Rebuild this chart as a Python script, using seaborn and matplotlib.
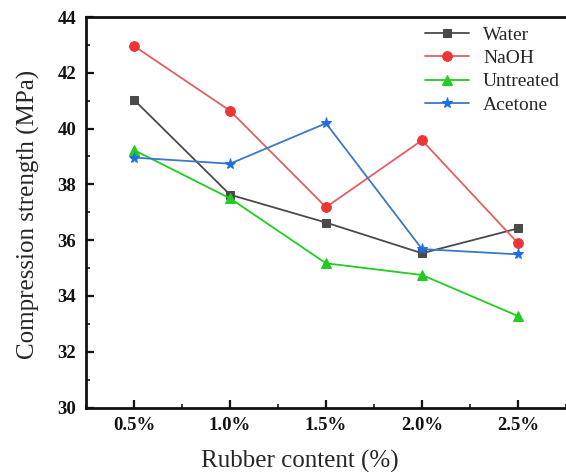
import matplotlib
matplotlib.use("Agg")
import matplotlib.pyplot as plt
import seaborn as sns
import numpy as np
import pandas as pd
from matplotlib.ticker import MultipleLocator

sns.set_theme(style="ticks")
plt.rcParams['font.family'] = ['Liberation Serif', 'DejaVu Serif']

rubber = [0.5, 1.0, 1.5, 2.0, 2.5]
tick_labels = ["0.5%", "1.0%", "1.5%", "2.0%", "2.5%"]
water = [41.03, 37.63, 36.63, 35.53, 36.42]
naoh = [42.96, 40.64, 37.18, 39.58, 35.89]
untreated = [39.23, 37.50, 35.17, 34.75, 33.28]
acetone = [38.96, 38.74, 40.19, 35.68, 35.49]

series = [
    ("Water", water, "#4a4a4a", "#4a4a4a", "s", 6),
    ("NaOH", naoh, "#e06060", "#ee3535", "o", 7),
    ("Untreated", untreated, "#22cc22", "#22cc22", "^", 7),
    ("Acetone", acetone, "#3a78c8", "#1f6fe0", "*", 8),
]

fig = plt.figure(figsize=(5.66, 4.72), dpi=100)
ax = fig.add_axes([86/566, 1-407.5/472, 1-86/566, (407.5-17)/472])

for name, vals, lc, mc, mk, ms in series:
    df = pd.DataFrame({"x": rubber, "y": vals})
    sns.lineplot(data=df, x="x", y="y", ax=ax, color=lc, marker=mk,
                 markersize=ms, markerfacecolor=mc, markeredgecolor=mc,
                 linewidth=1.3, label=name)

ax.set_xlim(0.25, 2.75)
ax.set_ylim(30, 44)
ax.set_xticks(rubber)
ax.set_xticklabels(tick_labels)
ax.xaxis.set_minor_locator(MultipleLocator(0.25))
ax.yaxis.set_major_locator(MultipleLocator(2))
ax.yaxis.set_minor_locator(MultipleLocator(1))
ax.tick_params(which="major", direction="in", length=6, width=1.6,
               labelsize=13.5, pad=7, colors="#111111")
ax.tick_params(which="minor", direction="in", length=3, width=1.3)
for lab in ax.get_xticklabels() + ax.get_yticklabels():
    lab.set_fontweight("bold")
for s in ["left", "bottom", "top"]:
    ax.spines[s].set_linewidth(2)
    ax.spines[s].set_color("#111111")
ax.spines["right"].set_visible(False)

ax.set_xlabel("Rubber content (%)", fontsize=18)
ax.set_ylabel("Compression strength (MPa)", fontsize=18)
ax.xaxis.set_label_coords(0.446, -0.108)
ax.yaxis.set_label_coords(-0.095, 0.495)

ax.legend(loc="upper left", bbox_to_anchor=(0.677, 1.012), frameon=False,
          fontsize=14, handlelength=2.3, handletextpad=0.7,
          labelspacing=0.3, borderaxespad=0.3)

fig.savefig("out.png", dpi=100)
